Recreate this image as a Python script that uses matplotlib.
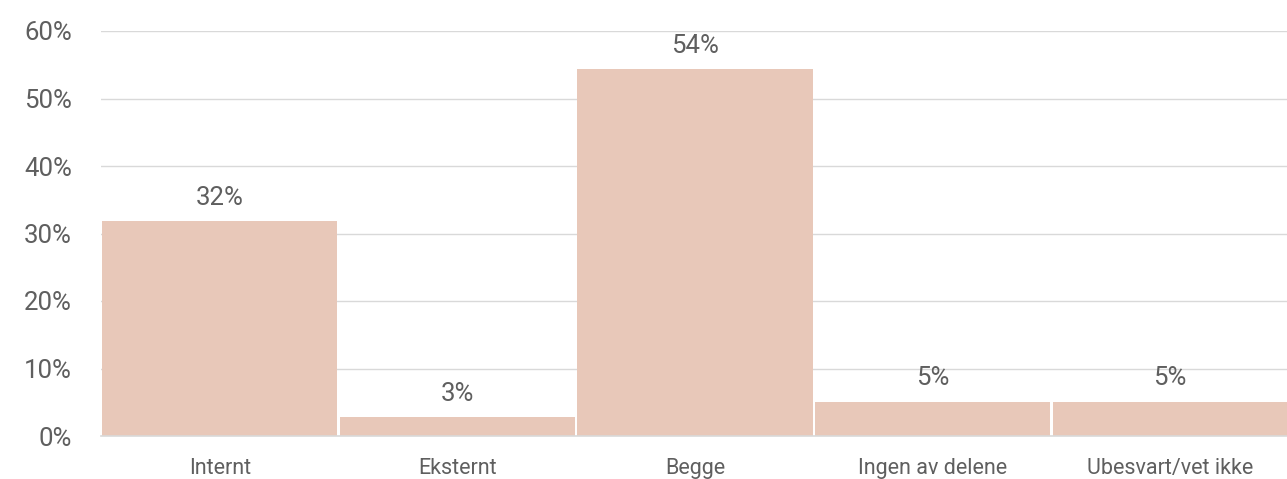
import matplotlib
matplotlib.use("Agg")
import matplotlib.pyplot as plt
from matplotlib.ticker import FuncFormatter

categories = ["Internt", "Eksternt", "Begge", "Ingen av delene", "Ubesvart/vet ikke"]
values = [31.9, 2.8, 54.4, 5.1, 5.1]
labels = ["32%", "3%", "54%", "5%", "5%"]

plt.rcParams['font.family'] = ['Roboto', 'DejaVu Sans']
plt.rcParams['font.weight'] = 'normal'

fig = plt.figure(figsize=(12.87, 4.79), dpi=100)
ax = fig.add_axes([101/1287, 1-436/479, (1289-101)/1287, (436-31)/479])

x = list(range(len(categories)))
ax.bar(x, values, width=0.99, color="#E8C8B9", zorder=2)
ax.set_xlim(-0.5, len(categories) - 0.5)
ax.set_ylim(0, 60)
ax.set_yticks(range(0, 61, 10))
ax.yaxis.set_major_formatter(FuncFormatter(lambda v, p: f"{int(v)}%"))
ax.grid(axis='y', color="#D9D9D9", linewidth=1, zorder=0)
ax.set_xticks(x)
ax.set_xticklabels(categories)
for s in ['top', 'right', 'left']:
    ax.spines[s].set_visible(False)
ax.spines['bottom'].set_color("#D9D9D9")
ax.spines['bottom'].set_linewidth(1.2)
ax.tick_params(axis='y', length=0, pad=21, labelsize=18.5, labelcolor="#5f5f5f")
ax.tick_params(axis='x', length=0, pad=16, labelsize=15.5, labelcolor="#5f5f5f")

for xi, v, lab in zip(x, values, labels):
    ax.annotate(lab, (xi, v), xytext=(0, 8), textcoords='offset points',
                ha='center', va='bottom', fontsize=18.5, color="#5f5f5f")

fig.savefig("out.png", dpi=100)
